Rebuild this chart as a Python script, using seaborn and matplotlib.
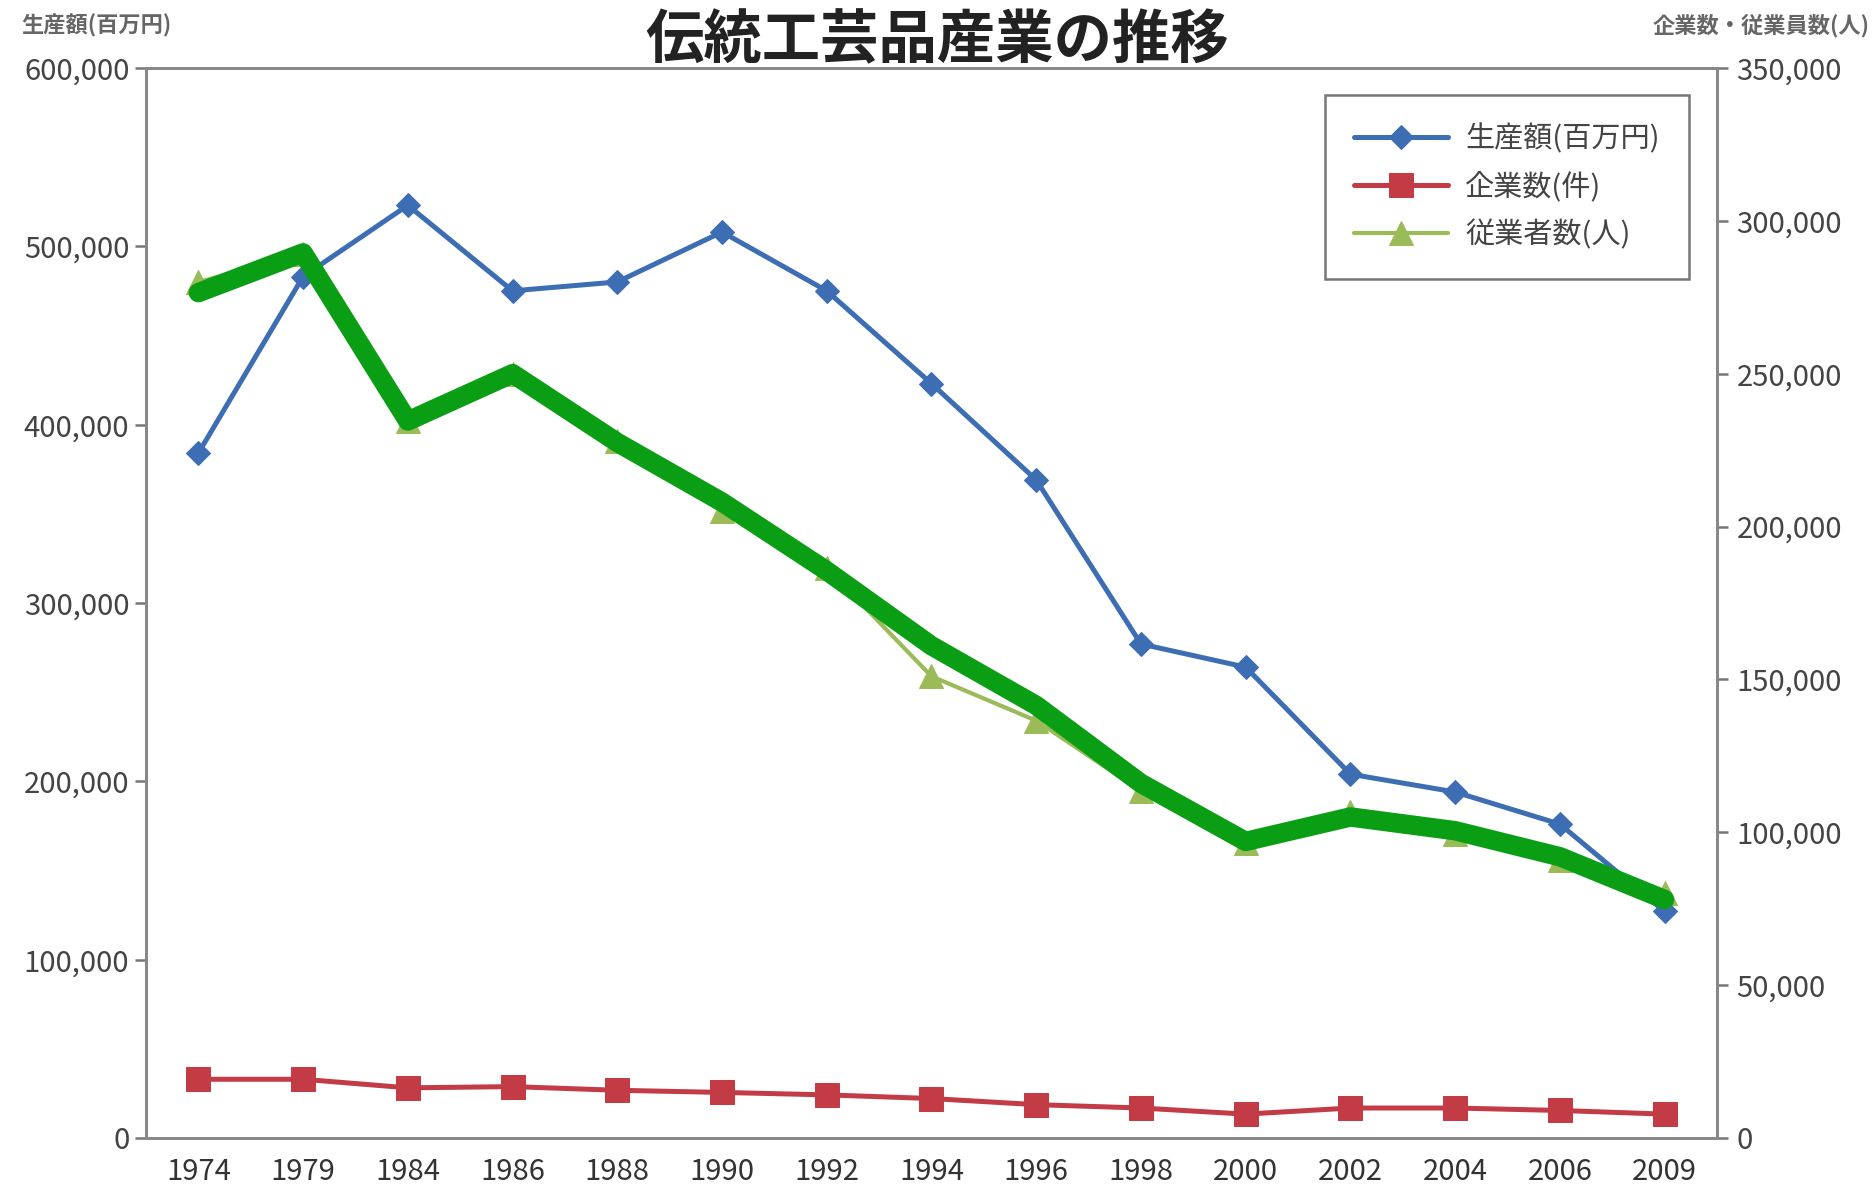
import numpy as np
import pandas as pd
import matplotlib
matplotlib.use("Agg")
import matplotlib.pyplot as plt
from matplotlib.ticker import FuncFormatter
import seaborn as sns

years = ["1974", "1979", "1984", "1986", "1988", "1990", "1992", "1994",
         "1996", "1998", "2000", "2002", "2004", "2006", "2009"]
production = [384000, 483000, 523000, 475000, 480000, 508000, 475000, 423000,
              369000, 277000, 264000, 204000, 194000, 176000, 127000]
companies = [19200, 19200, 16400, 16800, 15600, 14900, 14100, 12900,
             10900, 9800, 7800, 9800, 9800, 9000, 7800]
employees = [280000, 289000, 234500, 250000, 228000, 205000, 186500, 151000,
             136500, 113500, 96500, 106500, 99500, 91000, 80000]
# thick hand-drawn green trace laid over the employee series
highlight = [276500, 289500, 234500, 250000, 227500, 208000, 185500, 161000,
             141500, 116000, 97000, 105000, 100500, 92000, 78000]

title = "伝統工芸品産業の推移"
left_label = "生産額(百万円)"
right_label = "企業数・従業員数(人)"
names = ["生産額(百万円)", "企業数(件)", "従業者数(人)"]

df = pd.DataFrame({"pos": np.arange(len(years)), "production": production,
                   "companies": companies, "employees": employees,
                   "highlight": highlight})

sns.set_style("white")
plt.rcParams["font.family"] = ["Noto Sans CJK JP", "DejaVu Sans"]

fig = plt.figure(figsize=(18.74, 11.98), dpi=100)
ax = fig.add_axes([0.0779, 0.0501, 0.8383, 0.8932])
ax2 = ax.twinx()

blue = "#3d6db3"
red = "#c23b45"
tri = "#9bbb59"
marker_green = "#0a9e14"

sns.lineplot(data=df, x="pos", y="production", ax=ax, color=blue, lw=3.6,
             marker="D", markersize=12, markeredgecolor=blue, label=names[0],
             legend=False)
sns.lineplot(data=df, x="pos", y="companies", ax=ax2, color=red, lw=3.6,
             marker="s", markersize=17, markeredgecolor=red, label=names[1],
             legend=False)
sns.lineplot(data=df, x="pos", y="employees", ax=ax2, color=tri, lw=3,
             marker="^", markersize=17, markeredgecolor=tri, label=names[2],
             legend=False)
sns.lineplot(data=df, x="pos", y="highlight", ax=ax2, color=marker_green,
             lw=14, legend=False, solid_capstyle="round", solid_joinstyle="round")

ax.set_xlim(-0.5, len(years) - 0.5)
ax.set_ylim(0, 600000)
ax2.set_ylim(0, 350000)
ax.set_yticks(np.arange(0, 600001, 100000))
ax2.set_yticks(np.arange(0, 350001, 50000))
fmt = FuncFormatter(lambda v, p: f"{int(v):,}")
ax.yaxis.set_major_formatter(fmt)
ax2.yaxis.set_major_formatter(fmt)

ax.set_xticks(np.arange(len(years)))
ax.set_xticklabels(years)
ax.set_xticks(np.arange(0.5, len(years) - 1, 1), minor=True)
ax.tick_params(axis="x", which="major", length=0, pad=14, labelsize=21,
               labelcolor="#333333")
ax.tick_params(axis="x", which="minor", length=10, width=1.8, color="#777777",
               direction="out")
ax.tick_params(axis="y", length=8, width=1.8, color="#777777", direction="out",
               labelsize=21, labelcolor="#444444", left=True, pad=4)
ax2.tick_params(axis="y", length=8, width=1.8, color="#777777", direction="out",
                labelsize=21, labelcolor="#444444", right=True, pad=6)
for a in (ax, ax2):
    a.set_xlabel("")
    a.set_ylabel("")
    for s in a.spines.values():
        s.set_visible(True)
        s.set_color("#888888")
        s.set_linewidth(2)

handles = [ax.get_lines()[0], ax2.get_lines()[0], ax2.get_lines()[1]]
leg = ax2.legend(handles, names, loc="upper right",
                 bbox_to_anchor=(0.982, 0.975), borderaxespad=0, fontsize=21,
                 frameon=True, fancybox=False, edgecolor="#555555",
                 handlelength=3.2, labelspacing=0.6, borderpad=1.0,
                 handletextpad=0.6, labelcolor="#444444")
leg.get_frame().set_linewidth(1.8)

fig.text(0.5, 1 - 58 / 1198, title, ha="center", va="baseline", fontsize=42,
         fontweight="bold", color="#222222")
fig.text(21 / 1874, 1 - 26 / 1198, left_label, ha="left", va="center",
         fontsize=16, fontweight="bold", color="#666666")
fig.text(1870 / 1874, 1 - 26 / 1198, right_label, ha="right", va="center",
         fontsize=16, fontweight="bold", color="#666666")

fig.savefig("out.png", dpi=100, facecolor="white")
